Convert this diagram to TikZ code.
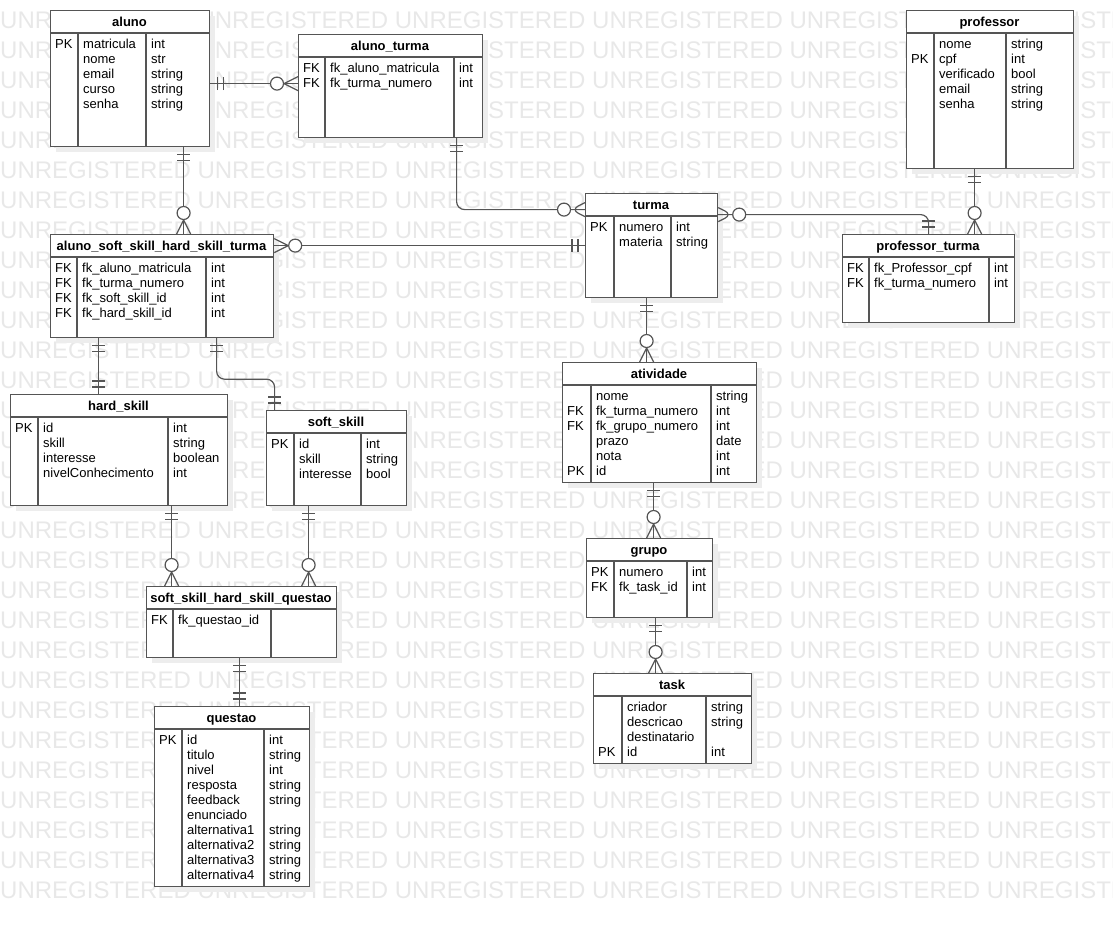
\documentclass[tikz,border=0pt]{standalone}
\usepackage{fontspec}
\setmainfont{Liberation Sans}
\usepackage{tikz}
\usetikzlibrary{decorations.markings}

\definecolor{edge}{HTML}{555555}
\definecolor{shadowgray}{HTML}{EDEDED}
\definecolor{wmark}{HTML}{E8E8E8}

\tikzset{
    tbl/.style={draw=edge, fill=white, line width=1.2pt, inner sep=0pt},
    tblline/.style={draw=edge, line width=1.2pt},
    title/.style={font=\fontsize{13}{15}\selectfont\bfseries, inner sep=0pt, anchor=base},
    cell/.style={font=\fontsize{13}{15}\selectfont, inner sep=0pt, anchor=base west},
    wm/.style={font=\fontsize{24}{28}\selectfont, text=wmark, inner sep=0pt, anchor=west},
    rel/.style={draw=edge, line width=1.2pt},
    bar/.style={draw=edge, line width=1.2pt},
    ring/.style={draw=edge, fill=white, line width=1.2pt},
    oneS/.style={postaction={decorate, decoration={markings,
        mark=at position 7pt with {\draw[bar] (0pt,-6.5pt) -- (0pt,6.5pt);},
        mark=at position 13pt with {\draw[bar] (0pt,-6.5pt) -- (0pt,6.5pt);}}}},
    oneE/.style={postaction={decorate, decoration={markings,
        mark=at position -7pt with {\draw[bar] (0pt,-6.5pt) -- (0pt,6.5pt);},
        mark=at position -13pt with {\draw[bar] (0pt,-6.5pt) -- (0pt,6.5pt);}}}},
    manyS/.style={postaction={decorate, decoration={markings,
        mark=at position 14pt with {\draw[bar] (-14pt,7pt) -- (0pt,0pt) -- (-14pt,-7pt);},
        mark=at position 21pt with {\draw[ring] (0pt,0pt) circle (6.5pt);}}}},
    manyE/.style={postaction={decorate, decoration={markings,
        mark=at position -14pt with {\draw[bar] (14pt,7pt) -- (0pt,0pt) -- (14pt,-7pt);},
        mark=at position -21pt with {\draw[ring] (0pt,0pt) circle (6.5pt);}}}},
}

% name, left, top, right, bottom, col 1, col 2, title, rows
\newcommand{\ertable}[9]{%
    \fill[shadowgray] (#2+6,#3+6) rectangle (#4+6,#5+6);
    \node[tbl, anchor=north west, minimum width={#4-#2}, minimum height={#5-#3}] (#1) at (#2,#3) {};
    \draw[tblline] (#2,#3+23) -- (#4,#3+23) (#6,#3+23) -- (#6,#5) (#7,#3+23) -- (#7,#5);
    \node[title] (#1-title) at ({(#2+#4)/2},#3+16) {#8};
    \foreach \ky/\fd/\ty [count=\i] in {#9} {
        \node[cell] (#1-k\i) at (#2+5,#3+23+15*\i) {\ky};
        \node[cell] (#1-f\i) at (#6+5,#3+23+15*\i) {\fd};
        \node[cell] (#1-t\i) at (#7+5,#3+23+15*\i) {\ty};
    }
}

\begin{document}
\begin{tikzpicture}[x=1pt, y=-1pt]
    \useasboundingbox (0,0) rectangle (1113,926);
    \clip (0,0) rectangle (1113,926);

    \foreach \r in {0,...,29}
        \node[wm] (wm\r) at (0,20+30*\r) {UNREGISTERED UNREGISTERED UNREGISTERED UNREGISTERED UNREGISTERED UNREGISTERED};

    \ertable{aluno}{50}{10}{209}{146}{78}{146}{aluno}
        {PK/matricula/int, /nome/str, /email/string, /curso/string, /senha/string}
    \ertable{alunoturma}{298}{34}{482}{137}{325}{454}{aluno\_turma}
        {FK/fk\_aluno\_matricula/int, FK/fk\_turma\_numero/int}
    \ertable{professor}{906}{10}{1073}{168}{934}{1006}{professor}
        {/nome/string, PK/cpf/int, /verificado/bool, /email/string, /senha/string}
    \ertable{turma}{585}{193}{717}{297}{614}{671}{turma}
        {PK/numero/int, /materia/string}
    \ertable{profturma}{842}{234}{1014}{322}{869}{989}{professor\_turma}
        {FK/fk\_Professor\_cpf/int, FK/fk\_turma\_numero/int}
    \ertable{alunoskill}{50}{234}{273}{337}{77}{206}{aluno\_soft\_skill\_hard\_skill\_turma}
        {FK/fk\_aluno\_matricula/int, FK/fk\_turma\_numero/int, FK/fk\_soft\_skill\_id/int, FK/fk\_hard\_skill\_id/int}
    \ertable{hardskill}{10}{394}{227}{505}{38}{168}{hard\_skill}
        {PK/id/int, /skill/string, /interesse/boolean, /nivelConhecimento/int}
    \ertable{softskill}{266}{410}{406}{505}{294}{361}{soft\_skill}
        {PK/id/int, /skill/string, /interesse/bool}
    \ertable{skillquestao}{146}{586}{336}{657}{173}{271}{soft\_skill\_hard\_skill\_questao}
        {FK/fk\_questao\_id/}
    \ertable{questao}{154}{706}{309}{886}{182}{264}{questao}
        {PK/id/int, /titulo/string, /nivel/int, /resposta/string, /feedback/string, /enunciado/, /alternativa1/string, /alternativa2/string, /alternativa3/string, /alternativa4/string}
    \ertable{atividade}{562}{362}{756}{482}{591}{711}{atividade}
        {/nome/string, FK/fk\_turma\_numero/int, FK/fk\_grupo\_numero/int, /prazo/date, /nota/int, PK/id/int}
    \ertable{grupo}{586}{538}{712}{617}{614}{687}{grupo}
        {PK/numero/int, FK/fk\_task\_id/int}
    \ertable{task}{593}{673}{751}{763}{622}{706}{task}
        {/criador/string, /descricao/string, /destinatario/, PK/id/int}

    \coordinate (c1) at ([xshift=53.5pt]aluno.south);
    \coordinate (c2) at ([xshift=-15.5pt]professor.south);
    \coordinate (c3) at ([xshift=-63.5pt]alunoskill.south);
    \coordinate (c4) at ([xshift=52.5pt]hardskill.south);
    \coordinate (c5) at ([xshift=-28pt]softskill.south);
    \coordinate (c6) at ([xshift=-2pt]skillquestao.south);
    \coordinate (c7) at ([xshift=-5pt]turma.south);
    \coordinate (c8) at ([xshift=-6pt]atividade.south);
    \coordinate (c9) at ([xshift=6pt]grupo.south);
    \coordinate (c10) at ([yshift=-5pt]aluno.east);

    \draw[rel, oneS, manyE] (c10) -- (c10 -| alunoturma.west);
    \draw[rel, oneS, manyE] (c1) -- (c1 |- alunoskill.north);
    \draw[rel, oneS, manyE, rounded corners=8pt] ([xshift=66pt]alunoturma.south) |- ([yshift=36pt]turma.west);
    \draw[rel, manyS, oneE, rounded corners=8pt] ([yshift=31pt]turma.east) -| (profturma.north);
    \draw[rel, oneS, manyE] (c2) -- (c2 |- profturma.north);
    \draw[rel, manyS, oneE] (turma.west -| alunoskill.east) -- (turma.west);
    \draw[rel, oneS, oneE] (c3) -- (c3 |- hardskill.north);
    \draw[rel, oneS, oneE, rounded corners=8pt] ([xshift=54.5pt]alunoskill.south) -- ++(0,41) -| ([xshift=-62pt]softskill.north);
    \draw[rel, oneS, manyE] (c4) -- (c4 |- skillquestao.north);
    \draw[rel, oneS, manyE] (c5) -- (c5 |- skillquestao.north);
    \draw[rel, oneS, oneE] (c6) -- (c6 |- questao.north);
    \draw[rel, oneS, manyE] (c7) -- (c7 |- atividade.north);
    \draw[rel, oneS, manyE] (c8) -- (c8 |- grupo.north);
    \draw[rel, oneS, manyE] (c9) -- (c9 |- task.north);
\end{tikzpicture}
\end{document}
